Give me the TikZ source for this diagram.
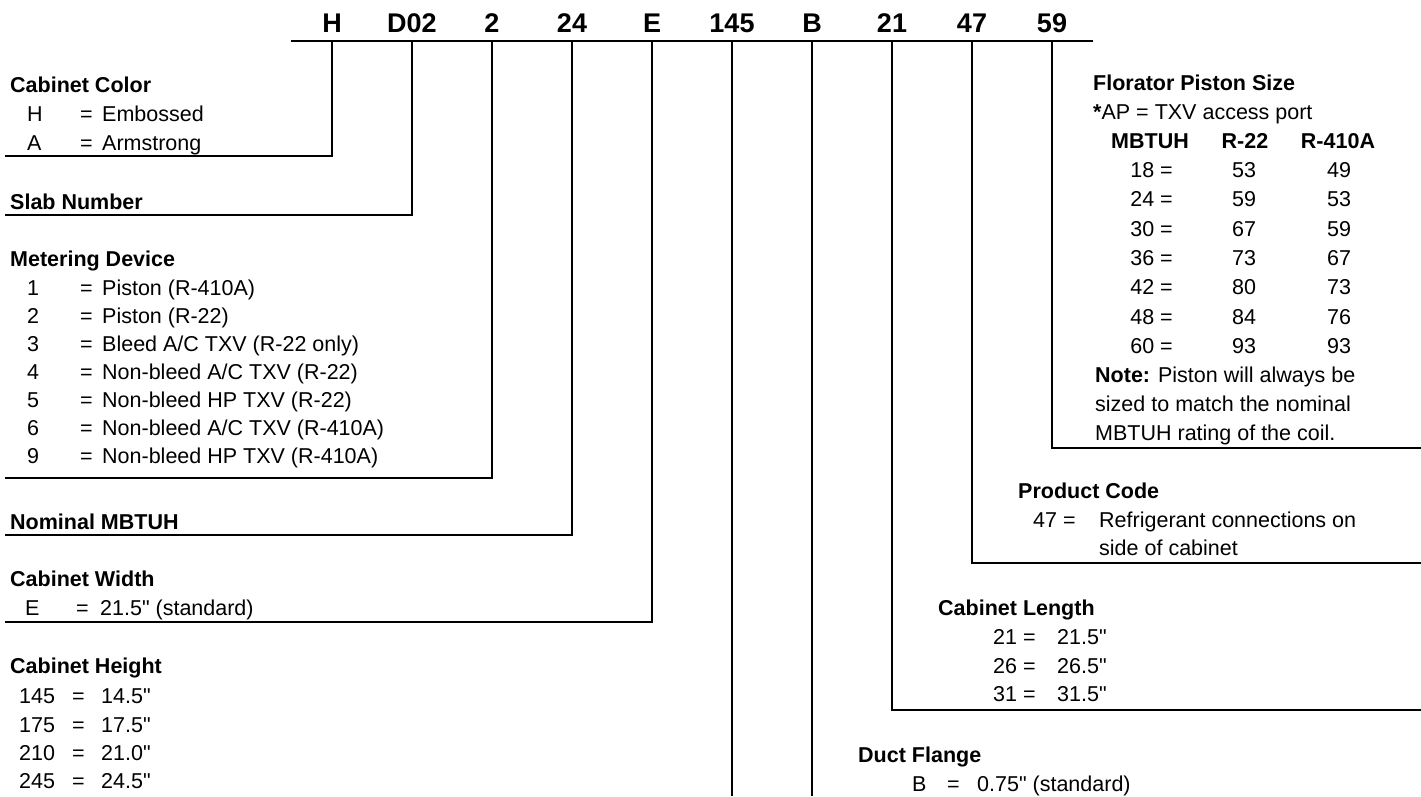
\documentclass[tikz,border=0pt]{standalone}
\usepackage{fontspec}
\setmainfont{Liberation Sans}[Ligatures=TeXOff]
\begin{document}
\begin{tikzpicture}[x=1pt,y=-1pt,
  lead/.style={line width=2.7pt, line join=miter},
  txt/.style={anchor=base west, inner sep=0pt, font=\fontsize{21.5}{25}\selectfont},
  hd/.style={anchor=base west, inner sep=0pt, font=\fontsize{21.5}{25}\selectfont\bfseries},
  ctr/.style={anchor=base, inner sep=0pt, font=\fontsize{21.5}{25}\selectfont},
  ctrb/.style={anchor=base, inner sep=0pt, font=\fontsize{21.5}{25}\selectfont\bfseries},
  rgt/.style={anchor=base east, inner sep=0pt, font=\fontsize{21.5}{25}\selectfont},
  code/.style={anchor=base, inner sep=0pt, font=\fontsize{27}{32}\selectfont\bfseries}]
\useasboundingbox (0,0) rectangle (1421,796);

% model code letters
\node[code] (c1) at (332,32) {H};
\node[code] (c2) at (412,32) {D02};
\node[code] (c3) at (492,32) {2};
\node[code] (c4) at (572,32) {24};
\node[code] (c5) at (652,32) {E};
\node[code] (c6) at (732,32) {145};
\node[code] (c7) at (812,32) {B};
\node[code] (c8) at (892,32) {21};
\node[code] (c9) at (972,32) {47};
\node[code] (c10) at (1052,32) {59};

% top rule
\coordinate (L0) at (291,41);
\coordinate (L1) at (1093,41);
\draw[lead] (L0) -- (L1);

% tick tops
\foreach \i/\x in {1/332,2/412,3/492,4/572,5/652,6/732,7/812,8/892,9/972,10/1052}
  \coordinate (t\i) at (\x,41);

% leader ends
\coordinate (e1) at (5,156);
\coordinate (e2) at (5,215);
\coordinate (e3) at (5,478);
\coordinate (e4) at (5,535);
\coordinate (e5) at (5,622);
\coordinate (e6) at (732,796);
\coordinate (e7) at (812,796);
\coordinate (e8) at (1421,710);
\coordinate (e9) at (1421,563);
\coordinate (e10) at (1421,448);

\draw[lead] (t1) |- (e1);
\draw[lead] (t2) |- (e2);
\draw[lead] (t3) |- (e3);
\draw[lead] (t4) |- (e4);
\draw[lead] (t5) |- (e5);
\draw[lead] (t6) -- (e6);
\draw[lead] (t7) -- (e7);
\draw[lead] (t8) |- (e8);
\draw[lead] (t9) |- (e9);
\draw[lead] (t10) |- (e10);

% Cabinet Color
\node[hd] (ccH) at (10,92) {Cabinet Color};
\node[txt] (ccK1) at (27,121) {H};
\node[txt] (ccE1) at (80,121) {=};
\node[txt] (ccV1) at (102,121) {Embossed};
\node[txt] (ccK2) at (27,150) {A};
\node[txt] (ccE2) at (80,150) {=};
\node[txt] (ccV2) at (102,150) {Armstrong};

% Slab Number
\node[hd] (snH) at (10,209) {Slab Number};

% Metering Device
\node[hd] (mdH) at (10,266) {Metering Device};
\node[txt] (mdK1) at (27,295) {1};
\node[txt] (mdE1) at (80,295) {=};
\node[txt] (mdV1) at (102,295) {Piston (R-410A)};
\node[txt] (mdK2) at (27,323) {2};
\node[txt] (mdE2) at (80,323) {=};
\node[txt] (mdV2) at (102,323) {Piston (R-22)};
\node[txt] (mdK3) at (27,351) {3};
\node[txt] (mdE3) at (80,351) {=};
\node[txt] (mdV3) at (102,351) {Bleed A/C TXV (R-22 only)};
\node[txt] (mdK4) at (27,379) {4};
\node[txt] (mdE4) at (80,379) {=};
\node[txt] (mdV4) at (102,379) {Non-bleed A/C TXV (R-22)};
\node[txt] (mdK5) at (27,407) {5};
\node[txt] (mdE5) at (80,407) {=};
\node[txt] (mdV5) at (102,407) {Non-bleed HP TXV (R-22)};
\node[txt] (mdK6) at (27,435) {6};
\node[txt] (mdE6) at (80,435) {=};
\node[txt] (mdV6) at (102,435) {Non-bleed A/C TXV (R-410A)};
\node[txt] (mdK9) at (27,463) {9};
\node[txt] (mdE9) at (80,463) {=};
\node[txt] (mdV9) at (102,463) {Non-bleed HP TXV (R-410A)};

% Nominal MBTUH
\node[hd] (nmH) at (10,529) {Nominal MBTUH};

% Cabinet Width
\node[hd] (cwH) at (10,586) {Cabinet Width};
\node[txt] (cwK) at (25,615) {E};
\node[txt] (cwE) at (76,615) {=};
\node[txt] (cwV) at (100,615) {21.5" (standard)};

% Cabinet Height
\node[hd] (chH) at (10,673) {Cabinet Height};
\node[txt] (chK1) at (19,703) {145};
\node[txt] (chE1) at (72,703) {=};
\node[txt] (chV1) at (101,703) {14.5"};
\node[txt] (chK2) at (19,732) {175};
\node[txt] (chE2) at (72,732) {=};
\node[txt] (chV2) at (101,732) {17.5"};
\node[txt] (chK3) at (19,760) {210};
\node[txt] (chE3) at (72,760) {=};
\node[txt] (chV3) at (101,760) {21.0"};
\node[txt] (chK4) at (19,788) {245};
\node[txt] (chE4) at (72,788) {=};
\node[txt] (chV4) at (101,788) {24.5"};

% Florator Piston Size
\node[hd] (fpH) at (1093,90) {Florator Piston Size};
\node[txt] (fpAP) at (1093,119) {\textbf{*}AP = TXV access port};
\node[ctrb] (fpC1) at (1150,148) {MBTUH};
\node[ctrb] (fpC2) at (1245,148) {R-22};
\node[ctrb] (fpC3) at (1338,148) {R-410A};
\node[rgt] (fpK1) at (1173,177) {18 =};
\node[ctr] (fpA1) at (1244,177) {53};
\node[ctr] (fpB1) at (1339,177) {49};
\node[rgt] (fpK2) at (1173,206) {24 =};
\node[ctr] (fpA2) at (1244,206) {59};
\node[ctr] (fpB2) at (1339,206) {53};
\node[rgt] (fpK3) at (1173,236) {30 =};
\node[ctr] (fpA3) at (1244,236) {67};
\node[ctr] (fpB3) at (1339,236) {59};
\node[rgt] (fpK4) at (1173,265) {36 =};
\node[ctr] (fpA4) at (1244,265) {73};
\node[ctr] (fpB4) at (1339,265) {67};
\node[rgt] (fpK5) at (1173,294) {42 =};
\node[ctr] (fpA5) at (1244,294) {80};
\node[ctr] (fpB5) at (1339,294) {73};
\node[rgt] (fpK6) at (1173,324) {48 =};
\node[ctr] (fpA6) at (1244,324) {84};
\node[ctr] (fpB6) at (1339,324) {76};
\node[rgt] (fpK7) at (1173,353) {60 =};
\node[ctr] (fpA7) at (1244,353) {93};
\node[ctr] (fpB7) at (1339,353) {93};
\node[txt] (fpN1) at (1095,382) {\textbf{Note:} Piston will always be};
\node[txt] (fpN2) at (1095,411) {sized to match the nominal};
\node[txt] (fpN3) at (1095,440) {MBTUH rating of the coil.};

% Product Code
\node[hd] (pcH) at (1018,498) {Product Code};
\node[txt] (pcK) at (1033,527) {47 =};
\node[txt] (pcV1) at (1099,527) {Refrigerant connections on};
\node[txt] (pcV2) at (1099,555) {side of cabinet};

% Cabinet Length
\node[hd] (clH) at (938,615) {Cabinet Length};
\node[txt] (clK1) at (993,644) {21 =};
\node[txt] (clV1) at (1057,644) {21.5"};
\node[txt] (clK2) at (993,673) {26 =};
\node[txt] (clV2) at (1057,673) {26.5"};
\node[txt] (clK3) at (993,701) {31 =};
\node[txt] (clV3) at (1057,701) {31.5"};

% Duct Flange
\node[hd] (dfH) at (858,762) {Duct Flange};
\node[txt] (dfK) at (912,791) {B};
\node[txt] (dfE) at (947,791) {=};
\node[txt] (dfV) at (977,791) {0.75" (standard)};
\end{tikzpicture}
\end{document}
